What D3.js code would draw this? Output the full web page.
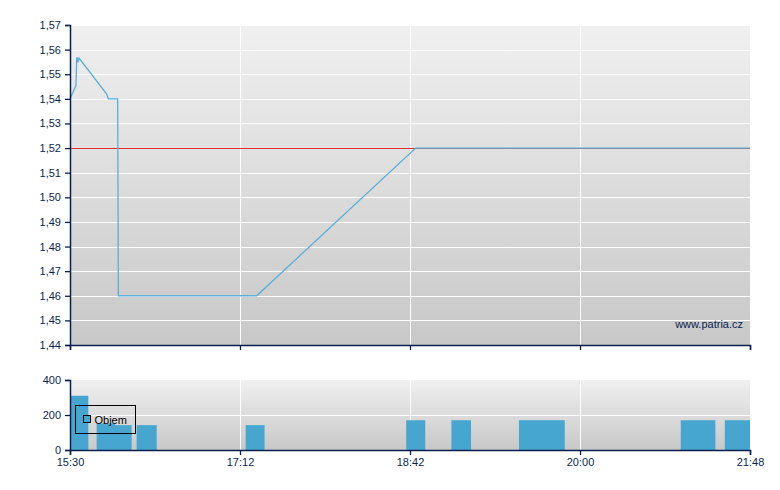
<!DOCTYPE html>
<html>
<head>
<meta charset="utf-8">
<script src="https://cdn.jsdelivr.net/npm/d3@7"></script>
<style>
  body { margin: 0; background: #fff; }
  svg { display: block; font-family: Arial, "Liberation Sans", sans-serif; }
</style>
</head>
<body>
<div id="chart"></div>
<script>
const width = 780;
const height = 490;
const margin = {left: 70, right: 30};
const priceTop = 25, priceBottom = 345;
const volTop = 380, volBottom = 450;

const axisCol = "#0b1f4e";
const lineCol = "#5aafd6";
const barCol = "#46a6cf";
const refCol = "#e2312f";

// x ticks (labels, evenly spaced on the chart)
const timeTicks = ["15:30", "17:12", "18:42", "20:00", "21:48"];

// price series
const priceTimes = ["15:30:00", "15:33:36", "15:34:00", "15:34:15", "15:34:50", "15:35:25", "15:52:00", "15:53:00", "15:58:36", "15:59:00", "17:20:50", "18:44:36", "21:48:00"];
const priceValues = [1.540, 1.5454, 1.5566, 1.5566, 1.5548, 1.5566, 1.5419, 1.540, 1.540, 1.460, 1.460, 1.520, 1.520];

// previous close reference
const refPrice = 1.52;

// price axis ticks
const priceTicks = [1.44, 1.45, 1.46, 1.47, 1.48, 1.49, 1.50, 1.51, 1.52, 1.53, 1.54, 1.55, 1.56, 1.57];

// volume bars
const volStart = ["15:30", "15:46", "15:57", "16:10", "17:15", "18:40", "19:01", "19:32", "21:04", "21:32"];
const volEnd   = ["15:41", "15:57", "16:07", "16:22", "17:25", "18:49", "19:10", "19:53", "21:26", "21:48"];
const volValues = [310, 152, 142, 142, 142, 170, 170, 170, 170, 170];
const volTicks = [0, 200, 400];

const toMin = s => {
  const p = s.split(":").map(Number);
  return p[0] * 60 + p[1] + (p[2] || 0) / 60;
};
const fmt = d3.format(".2f");
const priceFmt = v => fmt(v).replace(".", ",");

const svg = d3.select("#chart").append("svg")
  .attr("width", width)
  .attr("height", height);

const defs = svg.append("defs");
const grad = defs.append("linearGradient")
  .attr("id", "bg")
  .attr("x1", 0).attr("y1", 0).attr("x2", 0).attr("y2", 1);
grad.append("stop").attr("offset", "0%").attr("stop-color", "#f0f0f0");
grad.append("stop").attr("offset", "100%").attr("stop-color", "#c8c8c8");

/// Scales ///
const plotW = width - margin.left - margin.right;
const xScale = d3.scaleLinear()
  .domain(timeTicks.map(toMin))
  .range(timeTicks.map((d, i) => margin.left + i * plotW / (timeTicks.length - 1)));

const yScale = d3.scaleLinear()
  .domain([1.44, 1.57])
  .range([priceBottom, priceTop]);

const vScale = d3.scaleLinear()
  .domain([0, 400])
  .range([volBottom, volTop]);

const x0 = xScale.range()[0], x1 = xScale.range()[xScale.range().length - 1];

// backgrounds
svg.append("rect")
  .attr("x", x0).attr("y", priceTop)
  .attr("width", x1 - x0).attr("height", priceBottom - priceTop)
  .attr("fill", "url(#bg)");
svg.append("rect")
  .attr("x", x0).attr("y", volTop)
  .attr("width", x1 - x0).attr("height", volBottom - volTop)
  .attr("fill", "url(#bg)");

// grid
const grid = svg.append("g").attr("stroke", "#fff").attr("stroke-width", 1);
grid.selectAll(".hp").data(priceTicks.slice(1))
  .join("line")
  .attr("x1", x0).attr("x2", x1)
  .attr("y1", d => Math.round(yScale(d)) + 0.5)
  .attr("y2", d => Math.round(yScale(d)) + 0.5);
grid.selectAll(".hv").data(volTicks.slice(1, -1))
  .join("line")
  .attr("x1", x0).attr("x2", x1)
  .attr("y1", d => Math.round(vScale(d)) + 0.5)
  .attr("y2", d => Math.round(vScale(d)) + 0.5);
const vgrid = timeTicks.slice(1, -1).map(toMin);
grid.selectAll(".vp").data(vgrid)
  .join("line")
  .attr("x1", d => Math.round(xScale(d)) + 0.5).attr("x2", d => Math.round(xScale(d)) + 0.5)
  .attr("y1", priceTop).attr("y2", priceBottom);
grid.selectAll(".vv").data(vgrid)
  .join("line")
  .attr("x1", d => Math.round(xScale(d)) + 0.5).attr("x2", d => Math.round(xScale(d)) + 0.5)
  .attr("y1", volTop).attr("y2", volBottom);

// reference line
svg.append("line")
  .attr("x1", x0).attr("x2", x1)
  .attr("y1", Math.round(yScale(refPrice)) + 0.5)
  .attr("y2", Math.round(yScale(refPrice)) + 0.5)
  .attr("stroke", refCol)
  .attr("stroke-width", 1);

// price line
const priceData = priceTimes.map((t, i) => ({t: toMin(t), v: priceValues[i]}));
svg.append("path")
  .datum(priceData)
  .attr("fill", "none")
  .attr("stroke", lineCol)
  .attr("stroke-width", 1.3)
  .attr("d", d3.line().x(d => xScale(d.t)).y(d => yScale(d.v)));

// volume bars
const volData = volValues.map((v, i) => ({s: toMin(volStart[i]), e: toMin(volEnd[i]), v}));
svg.append("g").selectAll("rect")
  .data(volData)
  .join("rect")
  .attr("x", d => xScale(d.s))
  .attr("width", d => xScale(d.e) - xScale(d.s))
  .attr("y", d => vScale(d.v))
  .attr("height", d => vScale(0) - vScale(d.v))
  .attr("fill", barCol);

/// Axes ///
const styleAxis = g => g
  .call(g => g.select(".domain").attr("stroke", axisCol).attr("stroke-width", 1.5))
  .call(g => g.selectAll(".tick line").attr("stroke", axisCol).attr("stroke-width", 1.3))
  .call(g => g.selectAll("text")
    .attr("fill", axisCol)
    .attr("font-size", "11px")
    .attr("font-family", "Arial, 'Liberation Sans', sans-serif"));

svg.append("g")
  .attr("transform", `translate(${x0},0)`)
  .call(d3.axisLeft(yScale).tickValues(priceTicks).tickFormat(priceFmt).tickSizeOuter(0).tickSize(5).tickPadding(4))
  .call(styleAxis);

svg.append("g")
  .attr("transform", `translate(0,${priceBottom})`)
  .call(d3.axisBottom(xScale).tickValues(timeTicks.map(toMin)).tickFormat("").tickSizeOuter(0).tickSize(5))
  .call(styleAxis);

svg.append("g")
  .attr("transform", `translate(${x0},0)`)
  .call(d3.axisLeft(vScale).tickValues(volTicks).tickSizeOuter(0).tickSize(5).tickPadding(4))
  .call(styleAxis);

svg.append("g")
  .attr("transform", `translate(0,${volBottom})`)
  .call(d3.axisBottom(xScale).tickValues(timeTicks.map(toMin))
    .tickFormat((d, i) => timeTicks[i]).tickSizeOuter(0).tickSize(5).tickPadding(3))
  .call(styleAxis);

// watermark
svg.append("text")
  .attr("x", x1 - 7)
  .attr("y", 328)
  .attr("text-anchor", "end")
  .attr("font-size", "11px")
  .attr("fill", axisCol)
  .text("www.patria.cz");

// legend
const legend = svg.append("g").attr("transform", "translate(75.5,405.5)");
legend.append("rect")
  .attr("width", 60).attr("height", 28)
  .attr("fill", "none").attr("stroke", "#000");
legend.append("rect")
  .attr("x", 8).attr("y", 10)
  .attr("width", 7).attr("height", 7)
  .attr("fill", barCol).attr("stroke", "#000");
legend.append("text")
  .attr("x", 19).attr("y", 18.5)
  .attr("font-size", "11px")
  .attr("fill", "#000")
  .text("Objem");
</script>
</body>
</html>
